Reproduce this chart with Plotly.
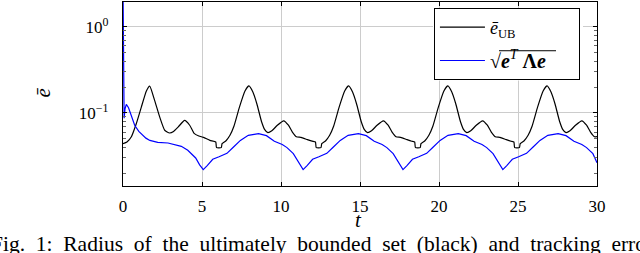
import plotly.graph_objects as go

# ---- data ----
black_t = [0.0, 0.25, 0.53, 0.84, 1.16, 1.48, 1.69, 2.0, 2.32, 2.64, 2.95, 3.2, 3.5, 3.9, 4.22, 4.5, 4.8, 5.1, 5.5, 5.87, 5.92, 6.22, 6.27,
           6.52, 6.77, 7.02, 7.37, 7.72, 7.97, 8.22, 8.47, 8.77, 8.97, 9.17, 9.42, 9.77, 10.17, 10.47, 10.72, 10.97, 11.27, 11.67, 11.97, 12.18, 12.23, 12.53, 12.58,
           12.83, 13.08, 13.33, 13.68, 14.03, 14.28, 14.53, 14.78, 15.08, 15.28, 15.48, 15.73, 16.08, 16.48, 16.78, 17.03, 17.28, 17.58, 17.98, 18.28, 18.46, 18.51, 18.81, 18.86,
           19.11, 19.36, 19.61, 19.96, 20.31, 20.56, 20.81, 21.06, 21.36, 21.56, 21.76, 22.01, 22.36, 22.76, 23.06, 23.31, 23.56, 23.86, 24.26, 24.56, 24.74, 24.79, 25.09, 25.14,
           25.39, 25.64, 25.89, 26.24, 26.59, 26.84, 27.09, 27.34, 27.64, 27.84, 28.04, 28.29, 28.64, 29.04, 29.34, 29.59, 29.84, 30.0]
black_v = [0.044, 0.046, 0.053, 0.075, 0.117, 0.180, 0.205, 0.140, 0.090, 0.063, 0.0585, 0.061, 0.069, 0.082, 0.072, 0.058, 0.054, 0.052, 0.048, 0.046, 0.0396, 0.0396, 0.044,
           0.0476, 0.055, 0.070, 0.117, 0.180, 0.206, 0.175, 0.128, 0.079, 0.064, 0.059, 0.062, 0.072, 0.081, 0.072, 0.060, 0.053, 0.052, 0.049, 0.047, 0.046, 0.0396, 0.0396, 0.044,
           0.0476, 0.055, 0.070, 0.117, 0.180, 0.206, 0.175, 0.128, 0.079, 0.064, 0.059, 0.062, 0.072, 0.081, 0.072, 0.060, 0.053, 0.052, 0.049, 0.047, 0.046, 0.0396, 0.0396, 0.044,
           0.0476, 0.055, 0.070, 0.117, 0.180, 0.206, 0.175, 0.128, 0.079, 0.064, 0.059, 0.062, 0.072, 0.081, 0.072, 0.060, 0.053, 0.052, 0.049, 0.047, 0.046, 0.0396, 0.0396, 0.044,
           0.0476, 0.055, 0.070, 0.117, 0.180, 0.206, 0.175, 0.128, 0.079, 0.064, 0.059, 0.062, 0.072, 0.081, 0.072, 0.060, 0.053, 0.053]

blue_t = [0.0, 0.02, 0.04, 0.07, 0.13, 0.21, 0.35, 0.5, 0.74, 1.0, 1.2, 1.45, 1.7, 2.2, 2.85, 3.69, 4.1, 4.4, 4.6, 4.85, 4.95,
          5.08, 5.33, 5.68, 6.08, 6.58, 6.98, 7.43, 7.93, 8.58, 9.08, 9.58, 10.08, 10.38, 10.78, 11.08, 11.23,
          11.40, 11.65, 12.0, 12.4, 12.9, 13.3, 13.75, 14.25, 14.9, 15.4, 15.9, 16.4, 16.7, 17.1, 17.4, 17.55,
          17.72, 17.97, 18.32, 18.72, 19.22, 19.62, 20.07, 20.57, 21.22, 21.72, 22.22, 22.72, 23.02, 23.42, 23.72, 23.87,
          24.04, 24.29, 24.64, 25.04, 25.54, 25.94, 26.39, 26.89, 27.54, 28.04, 28.54, 29.04, 29.34, 29.74, 30.0]
blue_v = [3.0, 0.6, 0.16, 0.087, 0.112, 0.126, 0.115, 0.094, 0.072, 0.061, 0.056, 0.051, 0.048, 0.0455, 0.0448, 0.041, 0.0368, 0.033, 0.030, 0.025, 0.0235,
          0.022, 0.0245, 0.029, 0.031, 0.034, 0.040, 0.048, 0.055, 0.0575, 0.0545, 0.047, 0.043, 0.0396, 0.0337, 0.027, 0.024,
          0.022, 0.0245, 0.029, 0.031, 0.034, 0.040, 0.048, 0.055, 0.0575, 0.0545, 0.047, 0.043, 0.0396, 0.0337, 0.027, 0.024,
          0.022, 0.0245, 0.029, 0.031, 0.034, 0.040, 0.048, 0.055, 0.0575, 0.0545, 0.047, 0.043, 0.0396, 0.0337, 0.027, 0.024,
          0.022, 0.0245, 0.029, 0.031, 0.034, 0.040, 0.048, 0.055, 0.0575, 0.0545, 0.047, 0.043, 0.0396, 0.0337, 0.0265]

x_ticks = [0, 5, 10, 15, 20, 25, 30]
y_ticks = [0.1, 1]
y_ticktext = ["10<sup>−1</sup>", "10<sup>0</sup>"]
y_minor = [0.02, 0.03, 0.04, 0.05, 0.06, 0.07, 0.08, 0.09, 0.2, 0.3, 0.4, 0.5, 0.6, 0.7, 0.8, 0.9]
name_black = "<i>ē</i><sub>UB</sub>" + "\u00a0" * 13
name_blue = ("<span style='font-size:20px'>√<b><i>e</i></b><sup><i>T</i></sup> "
             "<b>Λ<i>e</i></b></span>")
caption_words = ["Fig.", "1:", "Radius", "of", "the", "ultimately", "bounded", "set",
                 "(black)", "and", "tracking", "error"]

SERIF = "Liberation Serif"
caption = " \u00a0".join(caption_words)

def px_x(p):
    return (p - 123) / 474

def px_y(p):
    return (186 - p) / 185

fig = go.Figure()
fig.add_trace(go.Scatter(x=black_t, y=black_v, mode="lines", name=name_black,
                         line=dict(color="black", width=1.2, shape="spline", smoothing=0.5),
                         legendgroup="a"))
fig.add_trace(go.Scatter(x=blue_t, y=blue_v, mode="lines", name=name_blue,
                         line=dict(color="#0000ff", width=1.2), legendgroup="b"))

fig.update_layout(
    width=640, height=253,
    margin=dict(l=123, r=43, t=2, b=67),
    paper_bgcolor="white", plot_bgcolor="white",
    font=dict(family=SERIF, size=17, color="black"),
    showlegend=True,
    legend=dict(x=0.964, y=0.968, xanchor="right", yanchor="top",
                bordercolor="black", borderwidth=1, bgcolor="rgba(255,255,255,0)",
                font=dict(family=SERIF, size=18), tracegroupgap=7,
                traceorder="grouped", itemwidth=45),
    xaxis=dict(range=[0, 30], tickvals=x_ticks, ticks="inside", ticklen=4,
               tickcolor="black", showgrid=True, gridcolor="#cccccc", gridwidth=1,
               showline=True, linecolor="black", linewidth=1.3, mirror="allticks",
               zeroline=False, ticklabelstandoff=4),
    yaxis=dict(type="log", range=[-1.848, 0.288], tickvals=y_ticks, ticktext=y_ticktext,
               ticks="inside", ticklen=4, tickcolor="black", showgrid=True,
               gridcolor="#cccccc", gridwidth=1, showline=True, linecolor="black",
               linewidth=1.3, mirror="allticks", zeroline=False, ticklabelstandoff=10,
               minor=dict(tickvals=y_minor, ticks="inside", ticklen=3,
                          tickcolor="#666666", showgrid=False)),
)

# white backing of the legend box (legend itself is transparent) and the root's overline
fig.add_shape(type="rect", xref="paper", yref="paper", layer="above",
              x0=px_x(433), x1=px_x(583), y0=px_y(80), y1=px_y(8),
              fillcolor="white", line=dict(width=0))
fig.add_shape(type="line", xref="paper", yref="paper", layer="above",
              x0=px_x(499), x1=px_x(556), y0=px_y(50), y1=px_y(50),
              line=dict(color="black", width=1))

fig.add_annotation(text="<i>t</i>", xref="paper", yref="paper", x=px_x(358),
                   y=px_y(220), showarrow=False, font=dict(family=SERIF, size=21),
                   xanchor="center", yanchor="middle")
fig.add_annotation(text="<i>ē</i>", xref="paper", yref="paper", x=px_x(43),
                   y=px_y(92), showarrow=False, textangle=-90,
                   font=dict(family=SERIF, size=21), xanchor="center", yanchor="middle")
fig.add_annotation(text=caption, xref="paper", yref="paper", x=px_x(-11),
                   y=px_y(244), showarrow=False, font=dict(family=SERIF, size=21.5),
                   xanchor="left", yanchor="middle")

fig.write_html("out.html", config={"displayModeBar": False},
               post_script="document.body.style.margin='0';document.body.style.overflow='hidden';")
